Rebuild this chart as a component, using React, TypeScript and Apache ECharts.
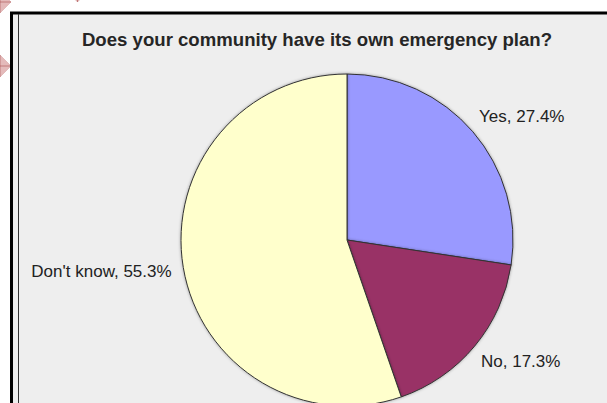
import React, { useEffect, useRef } from "react";
import * as echarts from "echarts";

const titleText = "Does your community have its own emergency plan?";
const categories = ["Yes", "No", "Don't know"];
const percents = [27.4, 17.3, 55.3];
const sliceColors = ["#9999FF", "#993366", "#FFFFCC"];

export default function App() {
  const ref = useRef<HTMLDivElement>(null);
  useEffect(() => {
    if (!ref.current) return;
    const chart = echarts.init(ref.current, null, { renderer: "svg" });
    const data = categories.map((name, i) => ({
      name,
      value: percents[i],
      itemStyle: { color: sliceColors[i] },
    }));
    const diamond = (cx: number, cy: number, h: number) => ({
      type: "group",
      z: 50,
      children: [
        {
          type: "polygon",
          shape: { points: [[cx, cy - h], [cx + h, cy], [cx, cy + h], [cx - h, cy]] },
          style: { fill: "rgba(205,130,130,0.55)", stroke: "rgba(190,110,110,0.6)", lineWidth: 0.5 },
        },
        { type: "line", shape: { x1: cx - h, y1: cy, x2: cx + h, y2: cy }, style: { stroke: "rgba(170,80,80,0.6)", lineWidth: 1 } },
        { type: "line", shape: { x1: cx, y1: cy - h, x2: cx, y2: cy + h }, style: { stroke: "rgba(170,80,80,0.6)", lineWidth: 1 } },
      ],
    });
    chart.setOption({
      animation: false,
      backgroundColor: "#ffffff",
      title: {
        text: titleText,
        left: 317,
        top: 30,
        padding: 0,
        textAlign: "center",
        textStyle: {
          fontFamily: "Liberation Sans, Arial, sans-serif",
          fontSize: 18.6,
          fontWeight: "bold",
          color: "#262626",
          lineHeight: 18,
        },
      },
      graphic: [
        { type: "rect", z: -100, shape: { x: 10, y: 12, width: 600, height: 400 }, style: { fill: "#eeeeee" } },
        { type: "line", z: 40, shape: { x1: 10, y1: 13, x2: 607, y2: 13 }, style: { stroke: "#000", lineWidth: 3 } },
        { type: "line", z: 40, shape: { x1: 11.5, y1: 12, x2: 11.5, y2: 403 }, style: { stroke: "#000", lineWidth: 3 } },
        { type: "line", z: 40, shape: { x1: 18.5, y1: 14, x2: 18.5, y2: 403 }, style: { stroke: "#333", lineWidth: 1 } },
        diamond(0, 2, 11),
        diamond(0, 66, 11),
        diamond(77.5, -9, 11),
      ],
      series: [
        {
          type: "pie",
          center: [347, 240],
          radius: 166,
          startAngle: 90,
          clockwise: true,
          avoidLabelOverlap: false,
          data,
          itemStyle: {
            borderColor: "#333",
            borderWidth: 1,
            shadowBlur: 3,
            shadowColor: "rgba(0,0,0,0.35)",
          },
          label: {
            show: true,
            position: "outside",
            formatter: (p: any) => `${p.name}, ${p.value.toFixed(1)}%`,
            fontFamily: "Liberation Sans, Arial, sans-serif",
            fontSize: 17,
            color: "#222",
          },
          labelLine: { show: false, length: 24, length2: -17 },
          emphasis: { disabled: true },
        },
      ],
    });
    return () => chart.dispose();
  }, []);
  return <div ref={ref} style={{ position: "absolute", left: 0, top: 0, width: 607, height: 403 }} />;
}
